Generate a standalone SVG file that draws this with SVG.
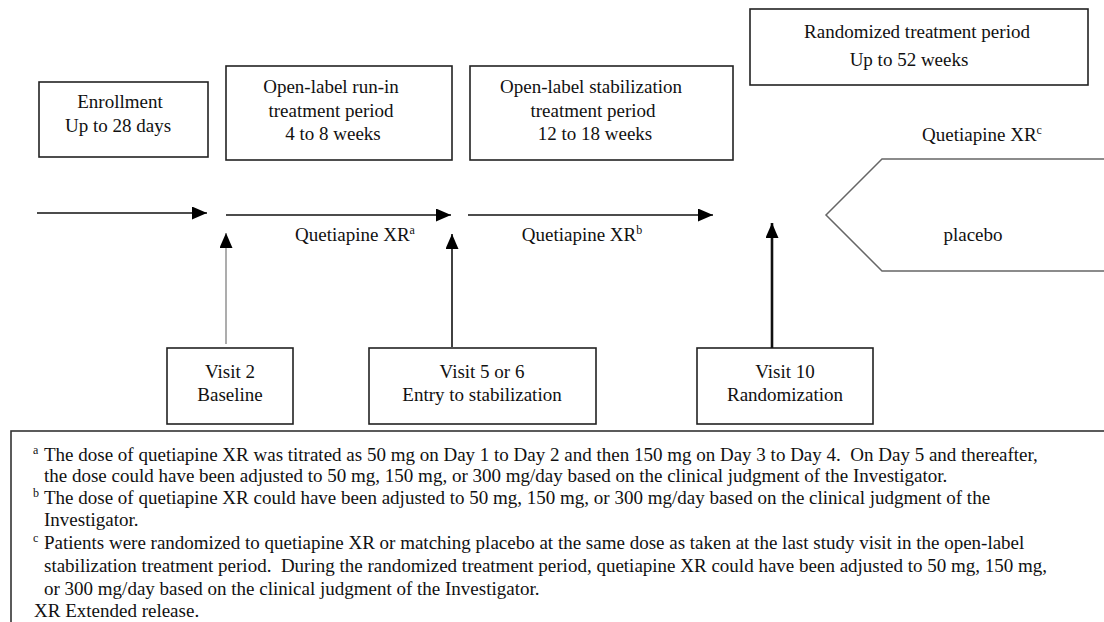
<svg xmlns="http://www.w3.org/2000/svg" width="1104" height="622" viewBox="0 0 1104 622">
<style>
text{font-family:'Liberation Serif','DejaVu Serif',serif;font-size:19px;fill:#111;white-space:pre}
.c{text-anchor:middle}
.sup{font-size:12px}
.box{fill:#fff;stroke:#222;stroke-width:1.6}
.ln{stroke:#111;stroke-width:1.6;fill:none}
</style>
<defs>
<marker id="ah" viewBox="0 0 15 13" refX="15" refY="6.5" markerWidth="15" markerHeight="13" markerUnits="userSpaceOnUse" orient="auto">
<path d="M0,0 L15,6.5 L0,13 z" fill="#000"/>
</marker>
</defs>
<rect width="1104" height="622" fill="#fff"/>

<g id="enrollment">
<rect class="box" x="39" y="82" width="169" height="75"/>
<text class="c" x="120" y="108">Enrollment</text>
<text class="c" x="118" y="132">Up to 28 days</text>
</g>

<g id="runin">
<rect class="box" x="226" y="66" width="226" height="94"/>
<text class="c" x="331" y="93">Open-label run-in</text>
<text class="c" x="331" y="117">treatment period</text>
<text class="c" x="333" y="140">4 to 8 weeks</text>
</g>

<g id="stabilization">
<rect class="box" x="470" y="66" width="263" height="94"/>
<text class="c" x="591" y="93">Open-label stabilization</text>
<text class="c" x="593" y="117">treatment period</text>
<text class="c" x="595" y="140">12 to 18 weeks</text>
</g>

<g id="randomized">
<rect class="box" x="750" y="9" width="338" height="76"/>
<text class="c" x="917" y="38">Randomized treatment period</text>
<text class="c" x="909" y="66">Up to 52 weeks</text>
</g>

<g id="randomized-arms">
<polyline points="1110,159 882,159 826,215 882,271 1110,271" fill="#fff" stroke="#666" stroke-width="1.5"/>
<text class="c" x="982" y="141">Quetiapine XR<tspan class="sup" dy="-7">c</tspan></text>
<text class="c" x="973" y="241">placebo</text>
</g>

<g id="visit2">
<rect class="box" x="167" y="348" width="126" height="76"/>
<text class="c" x="230" y="378">Visit 2</text>
<text class="c" x="230" y="401">Baseline</text>
</g>

<g id="visit5">
<rect class="box" x="369" y="348" width="227" height="76"/>
<text class="c" x="482" y="378">Visit 5 or 6</text>
<text class="c" x="482" y="401">Entry to stabilization</text>
</g>

<g id="visit10">
<rect class="box" x="697" y="348" width="176" height="76"/>
<text class="c" x="785" y="378">Visit 10</text>
<text class="c" x="785" y="401">Randomization</text>
</g>

<g id="connectors">
<line class="ln" x1="37" y1="213" x2="207" y2="213" marker-end="url(#ah)"/>
<line class="ln" x1="226" y1="215" x2="451" y2="215" marker-end="url(#ah)"/>
<line class="ln" x1="468" y1="215" x2="713" y2="215" marker-end="url(#ah)"/>
<line x1="226" y1="344" x2="226" y2="233" stroke="#999" stroke-width="1.6" marker-end="url(#ah)"/>
<line class="ln" x1="452" y1="347" x2="452" y2="234" marker-end="url(#ah)"/>
<line x1="772" y1="348" x2="772" y2="223" stroke="#111" stroke-width="2.6" marker-end="url(#ah)"/>
</g>

<g id="labels">
<text class="c" x="355" y="241">Quetiapine XR<tspan class="sup" dy="-7">a</tspan></text>
<text class="c" x="582" y="241">Quetiapine XR<tspan class="sup" dy="-7">b</tspan></text>
</g>

<g id="footnotes">
<rect x="11" y="431" width="1100" height="200" fill="none" stroke="#333" stroke-width="1.6"/>
<text class="sup" x="33" y="454">a</text>
<text x="44" y="461">The dose of quetiapine XR was titrated as 50 mg on Day 1 to Day 2 and then 150 mg on Day 3 to Day 4.  On Day 5 and thereafter,</text>
<text x="44" y="482">the dose could have been adjusted to 50 mg, 150 mg, or 300 mg/day based on the clinical judgment of the Investigator.</text>
<text class="sup" x="33" y="497">b</text>
<text x="44" y="504">The dose of quetiapine XR could have been adjusted to 50 mg, 150 mg, or 300 mg/day based on the clinical judgment of the</text>
<text x="44" y="526">Investigator.</text>
<text class="sup" x="33" y="542">c</text>
<text x="44" y="549">Patients were randomized to quetiapine XR or matching placebo at the same dose as taken at the last study visit in the open-label</text>
<text x="44" y="572">stabilization treatment period.  During the randomized treatment period, quetiapine XR could have been adjusted to 50 mg, 150 mg,</text>
<text x="44" y="595">or 300 mg/day based on the clinical judgment of the Investigator.</text>
<text x="34" y="617">XR Extended release.</text>
</g>
</svg>
